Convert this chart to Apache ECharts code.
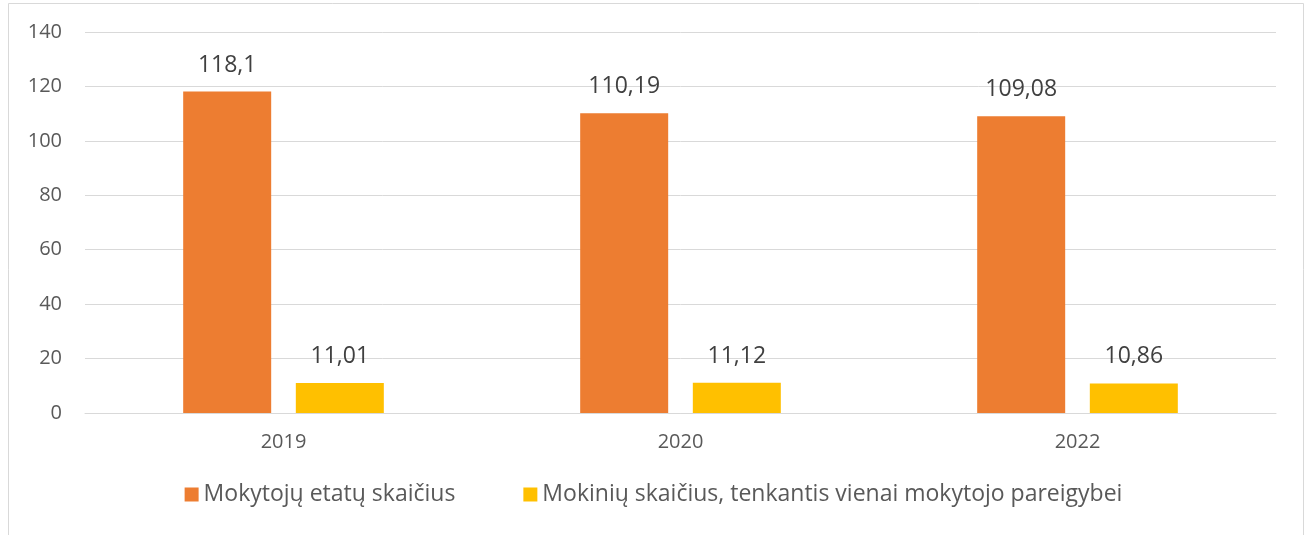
<!DOCTYPE html>
<html><head><meta charset="utf-8">
<script src="https://cdn.jsdelivr.net/npm/echarts@6/dist/echarts.min.js"></script>
<style>html,body{margin:0;padding:0;background:#fff}#c{width:1307px;height:535px}</style>
</head><body><div id="c"></div>
<script>
const categories = ['2019', '2020', '2022'];
const seriesNames = ['Mokytojų etatų skaičius', 'Mokinių skaičius, tenkantis vienai mokytojo pareigybei'];
const teacherPosts = [118.1, 110.19, 109.08];
const studentsPerTeacher = [11.01, 11.12, 10.86];
const yTicks = [0, 20, 40, 60, 80, 100, 120, 140];

const FONT = '"Open Sans", "Noto Sans", sans-serif';
const fmt = p => String(p.value).replace('.', ',');
const chart = echarts.init(document.getElementById('c'), null, {renderer: 'canvas'});
chart.setOption({
  animation: false,
  backgroundColor: '#fff',
  graphic: [{
    type: 'rect', z: -1, silent: true,
    shape: {x: 8.5, y: 3.5, width: 1295, height: 540},
    style: {fill: '#fff', stroke: '#d9d9d9', lineWidth: 1}
  }],
  grid: {left: 85, right: 31, top: 32, bottom: 122, containLabel: false},
  legend: {
    bottom: 24, left: 'center',
    itemWidth: 14, itemHeight: 14, itemGap: 68,
    icon: 'rect',
    textStyle: {color: '#595959', fontSize: 23, fontFamily: FONT},
    data: seriesNames
  },
  xAxis: {
    type: 'category', data: categories,
    axisLine: {lineStyle: {color: '#d9d9d9', width: 1}},
    axisTick: {show: false},
    axisLabel: {color: '#595959', fontSize: 20, fontFamily: FONT, margin: 19}
  },
  yAxis: {
    type: 'value', min: yTicks[0], max: yTicks[yTicks.length - 1], interval: 20,
    axisLine: {show: false}, axisTick: {show: false},
    splitLine: {lineStyle: {color: '#d9d9d9', width: 1}},
    axisLabel: {color: '#595959', fontSize: 20, fontFamily: FONT, margin: 23}
  },
  series: [
    {
      name: seriesNames[0], type: 'bar', data: teacherPosts,
      barWidth: 88, barGap: '28%',
      itemStyle: {color: '#ED7D31'},
      label: {show: true, position: 'top', distance: 15, color: '#404040', fontSize: 23, fontFamily: FONT, formatter: fmt}
    },
    {
      name: seriesNames[1], type: 'bar', data: studentsPerTeacher,
      barWidth: 88,
      itemStyle: {color: '#FFC000'},
      label: {show: true, position: 'top', distance: 15, color: '#404040', fontSize: 23, fontFamily: FONT, formatter: fmt}
    }
  ]
});
</script></body></html>
